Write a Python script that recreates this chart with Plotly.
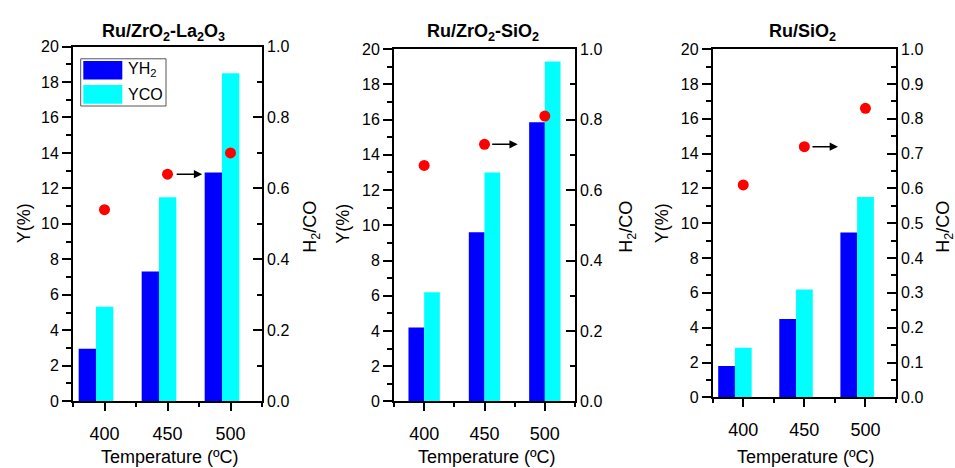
import plotly.graph_objects as go

# ---------------- data ----------------
temps = ["400", "450", "500"]
titles = ["Ru/ZrO<sub>2</sub>-La<sub>2</sub>O<sub>3</sub>",
          "Ru/ZrO<sub>2</sub>-SiO<sub>2</sub>",
          "Ru/SiO<sub>2</sub>"]

yh2_la = [2.95, 7.32, 12.9]
yco_la = [5.32, 11.5, 18.5]
ratio_la = [0.54, 0.64, 0.70]

yh2_si = [4.2, 9.6, 15.85]
yco_si = [6.2, 13.0, 19.3]
ratio_si = [0.67, 0.73, 0.81]

yh2_ru = [1.8, 4.5, 9.47]
yco_ru = [2.85, 6.2, 11.5]
ratio_ru = [0.61, 0.72, 0.83]

series = [(yh2_la, yco_la, ratio_la), (yh2_si, yco_si, ratio_si), (yh2_ru, yco_ru, ratio_ru)]

# ---------------- layout / style ----------------
W, H = 955, 468
FONT = "Liberation Sans, Arial, sans-serif"
BLUE = "#0000FF"
CYAN = "#00FFFF"
RED = "#FF0000"

# panel frames in pixels: x0, x1, ytop, ybottom
frames = [(73, 262, 40, 408), (394, 575, 42.7, 408.3), (712.7, 896, 42.7, 404)]
# bar offsets (YH2 offset, YCO offset, width) in category units
bar_geo = [(-0.41, -0.135, 0.275), (-0.26, 0.0, 0.26), (-0.41, -0.136, 0.274)]
right_dtick = [0.2, 0.2, 0.1]
right_minor = [0.1, 0.1, 0.05]
title_x = [163, 483, 802]
yl_x = [23.5, 343, 661.5]
h2_x = [312, 628, 945]


def px(x):
    return x / W


def py(y):
    return 1 - y / H


xs = list(range(len(temps)))
fig = go.Figure()
layout = dict(
    width=W, height=H,
    margin=dict(l=0, r=0, t=0, b=0),
    paper_bgcolor="white", plot_bgcolor="white",
    barmode="overlay", showlegend=False,
    font=dict(family=FONT, color="black"),
)
annotations = []
shapes = []

for i, ((yh2, yco, ratio), (x0, x1, yt, yb)) in enumerate(zip(series, frames)):
    xn = "x" if i == 0 else f"x{i+1}"
    yl = "y" if i == 0 else f"y{2*i+1}"
    yr = f"y{2*i+2}"
    xkey = "xaxis" if i == 0 else f"xaxis{i+1}"
    ylkey = "yaxis" if i == 0 else f"yaxis{2*i+1}"
    yrkey = f"yaxis{2*i+2}"
    oh, oc, w = bar_geo[i]

    fig.add_trace(go.Bar(x=xs, y=yh2, xaxis=xn, yaxis=yl, width=w, offset=oh,
                         marker=dict(color=BLUE, line=dict(width=0)), name="YH2"))
    fig.add_trace(go.Bar(x=xs, y=yco, xaxis=xn, yaxis=yl, width=w, offset=oc,
                         marker=dict(color=CYAN, line=dict(width=0)), name="YCO"))
    fig.add_trace(go.Scatter(x=xs, y=ratio, xaxis=xn, yaxis=yr, mode="markers",
                             marker=dict(color=RED, size=11, line=dict(width=0)),
                             name="H2/CO"))

    layout[xkey] = dict(
        domain=[px(x0), px(x1)], anchor=yl, range=[-0.5, len(temps) - 0.5],
        tickmode="array", tickvals=xs, ticktext=temps,
        ticks="outside", ticklen=8, tickwidth=1.5, tickcolor="black",
        ticklabelstandoff=7,
        minor=dict(tickmode="array", tickvals=[v + 0.5 for v in [-1] + xs],
                   ticks="outside", ticklen=4, tickwidth=1.5, tickcolor="black"),
        showline=True, linecolor="black", linewidth=1.8, mirror=True,
        showgrid=False, zeroline=False, fixedrange=True,
        tickfont=dict(size=18, family=FONT, color="black"),
    )
    layout[ylkey] = dict(
        domain=[py(yb), py(yt)], anchor=xn, range=[0, 20],
        tickmode="linear", tick0=0, dtick=2,
        ticks="outside", ticklen=9, tickwidth=1.5, tickcolor="black",
        minor=dict(dtick=1, ticks="outside", ticklen=5, tickwidth=1.5, tickcolor="black"),
        showline=True, linecolor="black", linewidth=1.8,
        showgrid=False, zeroline=False, fixedrange=True,
        tickfont=dict(size=16, family=FONT, color="black"),
    )
    layout[yrkey] = dict(
        overlaying=yl, side="right", anchor=xn, range=[0, 1],
        tickmode="linear", tick0=0, dtick=right_dtick[i], tickformat=".1f",
        ticks="inside", ticklen=9, tickwidth=1.5, tickcolor="black",
        minor=dict(dtick=right_minor[i], ticks="inside", ticklen=5, tickwidth=1.5,
                   tickcolor="black"),
        showline=True, linecolor="black", linewidth=1.8,
        showgrid=False, zeroline=False, fixedrange=True,
        tickfont=dict(size=16, family=FONT, color="black"),
    )

    # arrow pointing to the right axis, from the middle point
    annotations.append(dict(
        x=xs[1] + 0.55, y=ratio[1], xref=xn, yref=yr, text="",
        showarrow=True, ax=-27, ay=0, axref="pixel", ayref="pixel",
        arrowhead=2, arrowsize=1.1, arrowwidth=1.5, arrowcolor="black", standoff=0,
    ))
    # panel title
    annotations.append(dict(
        x=px(title_x[i]), y=py(25), xref="paper", yref="paper",
        text=f"<b>{titles[i]}</b>", showarrow=False,
        xanchor="center", yanchor="middle", font=dict(size=18, family=FONT, color="black"),
    ))
    # axis titles
    annotations.append(dict(
        x=px(yl_x[i]), y=py(224), xref="paper", yref="paper", text="Y(%)",
        textangle=-90, showarrow=False, xanchor="center", yanchor="middle",
        font=dict(size=18, family=FONT, color="black"),
    ))
    annotations.append(dict(
        x=px(h2_x[i]), y=py(227), xref="paper", yref="paper", text="H<sub>2</sub>/CO",
        textangle=-90, showarrow=False, xanchor="center", yanchor="middle",
        font=dict(size=18, family=FONT, color="black"),
    ))
    annotations.append(dict(
        x=px((x0 + x1) / 2 + 2), y=py(466), xref="paper", yref="paper",
        text="Temperature (ºC)", showarrow=False, xanchor="center", yanchor="middle",
        font=dict(size=18, family=FONT, color="black"),
    ))

# legend drawn in panel 1
shapes.append(dict(type="rect", xref="paper", yref="paper",
                   x0=px(80.7), x1=px(166), y0=py(101.7), y1=py(52.7),
                   line=dict(color="#555555", width=1), fillcolor="white"))
shapes.append(dict(type="rect", xref="paper", yref="paper",
                   x0=px(83.3), x1=px(122.3), y0=py(74.3), y1=py(55),
                   line=dict(width=0), fillcolor=BLUE))
shapes.append(dict(type="rect", xref="paper", yref="paper",
                   x0=px(83.3), x1=px(122.3), y0=py(99.3), y1=py(80),
                   line=dict(width=0), fillcolor=CYAN))
annotations.append(dict(x=px(126), y=py(64), xref="paper", yref="paper",
                        text="YH<sub>2</sub>", showarrow=False, xanchor="left",
                        yanchor="middle", font=dict(size=16, family=FONT, color="black")))
annotations.append(dict(x=px(126), y=py(90), xref="paper", yref="paper",
                        text="YCO", showarrow=False, xanchor="left",
                        yanchor="middle", font=dict(size=16, family=FONT, color="black")))

layout["annotations"] = annotations
layout["shapes"] = shapes
fig.update_layout(**layout)
fig.write_html("out.html")
